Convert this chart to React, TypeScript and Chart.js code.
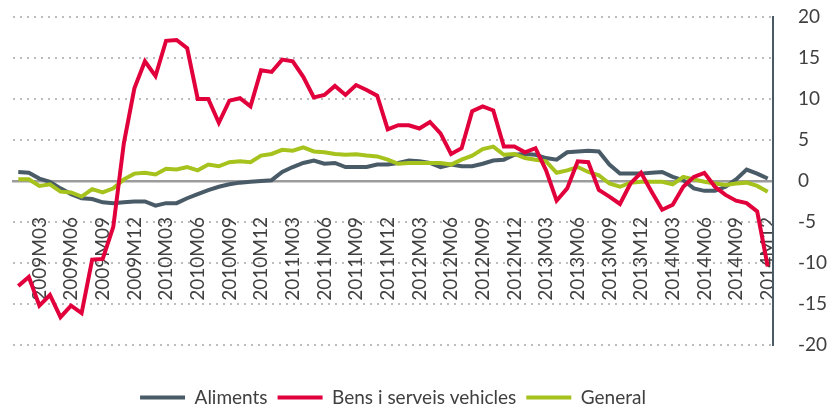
import React, { useEffect, useRef } from 'react';
import { Chart, registerables } from 'chart.js';

Chart.register(...registerables);

const categories = [
  '2009M01','2009M02','2009M03','2009M04','2009M05','2009M06','2009M07','2009M08','2009M09','2009M10','2009M11','2009M12',
  '2010M01','2010M02','2010M03','2010M04','2010M05','2010M06','2010M07','2010M08','2010M09','2010M10','2010M11','2010M12',
  '2011M01','2011M02','2011M03','2011M04','2011M05','2011M06','2011M07','2011M08','2011M09','2011M10','2011M11','2011M12',
  '2012M01','2012M02','2012M03','2012M04','2012M05','2012M06','2012M07','2012M08','2012M09','2012M10','2012M11','2012M12',
  '2013M01','2013M02','2013M03','2013M04','2013M05','2013M06','2013M07','2013M08','2013M09','2013M10','2013M11','2013M12',
  '2014M01','2014M02','2014M03','2014M04','2014M05','2014M06','2014M07','2014M08','2014M09','2014M10','2014M11','2014M12',
];

const tickLabels = [
  '2009M03','2009M06','2009M09','2009M12','2010M03','2010M06','2010M09','2010M12',
  '2011M03','2011M06','2011M09','2011M12','2012M03','2012M06','2012M09','2012M12',
  '2013M03','2013M06','2013M09','2013M12','2014M03','2014M06','2014M09','2014M12',
];

const aliments = [
  1.1, 1.0, 0.3, -0.1, -0.9, -1.6, -2.1, -2.2, -2.6, -2.7, -2.6, -2.5,
  -2.5, -3.0, -2.7, -2.7, -2.1, -1.6, -1.1, -0.7, -0.4, -0.2, -0.1, 0.0,
  0.1, 1.1, 1.7, 2.2, 2.5, 2.1, 2.2, 1.7, 1.7, 1.7, 2.0, 2.0,
  2.2, 2.5, 2.4, 2.2, 1.7, 2.0, 1.8, 1.8, 2.1, 2.5, 2.6, 3.2,
  3.3, 3.2, 2.8, 2.6, 3.5, 3.6, 3.7, 3.6, 2.0, 0.9, 0.9, 0.9,
  1.0, 1.1, 0.5, 0.1, -0.9, -1.2, -1.2, -0.7, 0.2, 1.4, 0.9, 0.3,
];

const bensVehicles = [
  -12.8, -11.7, -15.2, -13.9, -16.6, -15.2, -16.1, -9.6, -9.5, -5.6, 4.6, 11.3,
  14.6, 12.8, 17.1, 17.2, 16.2, 10.0, 10.0, 7.1, 9.8, 10.1, 9.1, 13.5,
  13.3, 14.8, 14.6, 12.7, 10.2, 10.5, 11.6, 10.5, 11.7, 11.1, 10.4, 6.3,
  6.8, 6.8, 6.4, 7.2, 5.8, 3.3, 4.0, 8.5, 9.1, 8.6, 4.2, 4.2,
  3.5, 4.0, 1.3, -2.4, -0.9, 2.4, 2.3, -1.1, -1.9, -2.8, -0.3, 1.0,
  -1.3, -3.5, -2.9, -0.7, 0.5, 1.0, -0.7, -1.7, -2.4, -2.7, -3.7, -10.4,
];

const general = [
  0.2, 0.2, -0.6, -0.4, -1.3, -1.4, -1.9, -1.0, -1.4, -0.9, 0.2, 0.9,
  1.0, 0.8, 1.5, 1.4, 1.7, 1.3, 2.0, 1.8, 2.3, 2.4, 2.3, 3.1,
  3.3, 3.8, 3.7, 4.1, 3.6, 3.5, 3.3, 3.2, 3.25, 3.1, 3.0, 2.6,
  2.1, 2.2, 2.2, 2.2, 2.2, 2.0, 2.6, 3.1, 3.9, 4.2, 3.2, 3.3,
  2.8, 2.6, 2.4, 1.0, 1.3, 1.7, 1.1, 0.7, -0.3, -0.7, -0.2, -0.1,
  -0.1, -0.1, -0.4, 0.5, 0.2, -0.1, -0.3, -0.5, -0.3, -0.2, -0.6, -1.3,
];

const FONT = "Lato, 'Noto Sans', sans-serif";
const TEXT = '#404040';
const C_ALIM = '#4a5b68';
const C_BENS = '#e2003c';
const C_GEN = '#a6c21c';

export default function App() {
  const ref = useRef<HTMLCanvasElement>(null);

  useEffect(() => {
    if (!ref.current) return;
    const tickSet = new Set(tickLabels);
    const chart = new Chart(ref.current, {
      type: 'line',
      data: {
        labels: categories,
        datasets: [
          { label: 'Aliments', data: aliments, borderColor: C_ALIM, backgroundColor: C_ALIM, borderWidth: 4, pointRadius: 0, tension: 0, order: 2, xAxisID: 'x', yAxisID: 'y' },
          { label: 'Bens i serveis vehicles', data: bensVehicles, borderColor: C_BENS, backgroundColor: C_BENS, borderWidth: 4, pointRadius: 0, tension: 0, order: 0, xAxisID: 'x', yAxisID: 'y' },
          { label: 'General', data: general, borderColor: C_GEN, backgroundColor: C_GEN, borderWidth: 4, pointRadius: 0, tension: 0, order: 1, xAxisID: 'x', yAxisID: 'y' },
        ],
      },
      options: {
        responsive: false,
        animation: false,
        layout: { padding: { left: 13, top: 17, right: 0, bottom: -10 } },
        plugins: {
          tooltip: { enabled: false },
          legend: {
            position: 'bottom',
            fullSize: false,
            labels: {
              boxWidth: 45,
              boxHeight: 4,
              padding: 10,
              color: TEXT,
              font: { family: FONT, size: 19 },
              sort: (a: any, b: any) => a.datasetIndex - b.datasetIndex,
              generateLabels: (c: any) =>
                (Chart.defaults.plugins.legend.labels.generateLabels as any)(c).map((l: any) => ({ ...l, lineWidth: 0 })),
            },
          },
        },
        scales: {
          x: {
            type: 'category',
            position: { y: 0 } as any,
            offset: true,
            grid: { display: false, drawTicks: false },
            border: { display: true, color: '#9c9c9c', width: 2.5 },
            ticks: {
              autoSkip: false,
              minRotation: 90,
              maxRotation: 90,
              padding: 36,
              color: TEXT,
              font: { family: FONT, size: 19 },
              callback: (_v: any, i: number) => (tickSet.has(categories[i]) ? categories[i] : ''),
            },
            afterFit: (s: any) => { s.paddingLeft = 0; s.paddingRight = 0; },
          },
          x2: {
            axis: 'x',
            type: 'category',
            labels: categories,
            position: 'bottom',
            grid: { display: false, drawTicks: false },
            border: { display: false },
            ticks: { display: false },
            afterFit: (s: any) => { s.height = 33; },
          } as any,
          y: {
            position: 'right',
            min: -20,
            max: 20,
            ticks: { stepSize: 5, padding: 25, color: TEXT, font: { family: FONT, size: 19 } },
            grid: {
              drawTicks: false,
              lineWidth: 2,
              color: (ctx: any) => (ctx.tick && ctx.tick.value === 0 ? 'rgba(0,0,0,0)' : '#bdbdbd'),
            },
            border: { display: true, color: '#4a5a66', width: 2, dash: [2, 5] },
            afterFit: (s: any) => { s.width = 54; s.paddingTop = 11; s.paddingBottom = 11; },
          },
        },
      } as any,
    });
    return () => chart.destroy();
  }, []);

  return (
    <div style={{ position: 'absolute', left: 0, top: 0, width: 827, height: 407, background: '#fff' }}>
      <canvas ref={ref} width={827} height={407} style={{ display: 'block' }} />
    </div>
  );
}
